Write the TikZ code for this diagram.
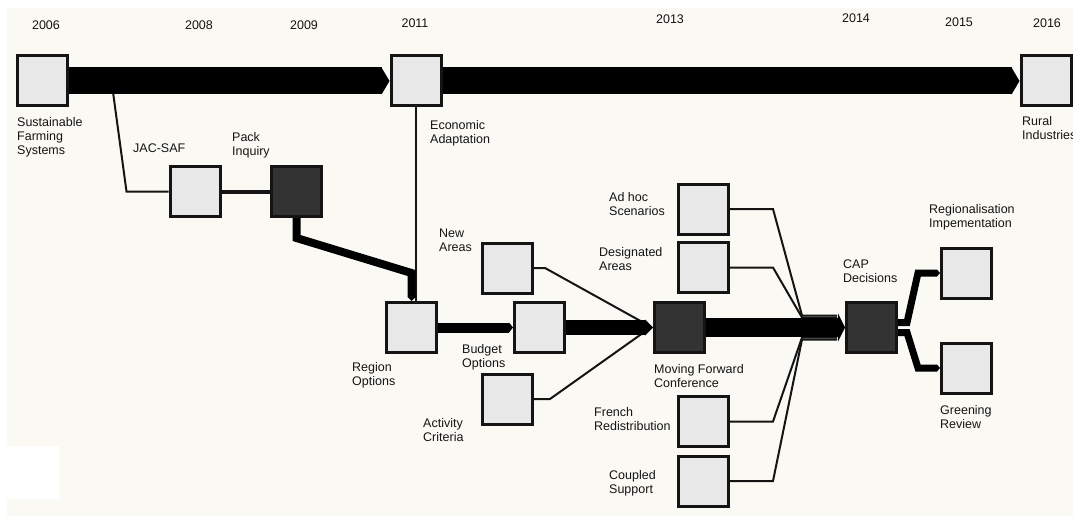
\documentclass[tikz,border=0pt]{standalone}
\usepackage{fontspec}
\setmainfont{Liberation Sans}
\usetikzlibrary{arrows.meta}
\definecolor{paper}{RGB}{250,249,244}
\definecolor{boxfill}{RGB}{232,232,232}
\definecolor{boxdark}{RGB}{51,51,51}
\definecolor{ink}{RGB}{20,20,20}
\tikzset{
  stage/.style={draw=ink, line width=3pt, fill=boxfill, minimum size=50pt, inner sep=0pt},
  keystage/.style={stage, fill=boxdark},
  lbl/.style={anchor=west, align=left, inner sep=0pt, text=ink, font=\fontsize{12.5}{14}\selectfont},
  yr/.style={inner sep=0pt, text=ink, font=\fontsize{12.5}{14}\selectfont},
  thinlink/.style={draw=ink, line width=2pt},
  flow/.style={draw=black, line width=#1},
  mainbar/.style={flow=27pt, -{Triangle[width=27pt,length=8pt,line width=0pt]}},
}
\begin{document}
\begin{tikzpicture}[x=1pt, y=-1pt]
	% 1. background
	\useasboundingbox (0,0) rectangle (1073,516);
	\fill[white] (0,0) rectangle (1073,516);
	\fill[paper] (7,8) rectangle (1073,516);
	\fill[white] (7,446) rectangle (59,499);
	
	% 2. years
	\node[yr] (y2006) at (46,25) {2006};
	\node[yr] (y2008) at (199,25) {2008};
	\node[yr] (y2009) at (304,25) {2009};
	\node[yr] (y2011) at (415,23) {2011};
	\node[yr] (y2013) at (670,19) {2013};
	\node[yr] (y2014) at (856,18) {2014};
	\node[yr] (y2015) at (959,22) {2015};
	\node[yr] (y2016) at (1047,23) {2016};
	
	% 3. stages
	\node[stage] (sfs) at (42,81) {};
	\node[stage] (eco) at (416,81) {};
	\node[stage] (rural) at (1046,81) {};
	\node[stage] (jac) at (195,191.5) {};
	\node[keystage] (pack) at (296.5,191.5) {};
	\node[stage] (region) at (411.5,327.5) {};
	\node[stage] (budget) at (539.5,327.5) {};
	\node[stage] (newareas) at (507.5,268) {};
	\node[stage] (activity) at (507.5,399) {};
	\node[keystage] (moving) at (679.5,327.5) {};
	\node[stage] (adhoc) at (703.5,209) {};
	\node[stage] (desig) at (703.5,267.5) {};
	\node[stage] (french) at (703.5,421.5) {};
	\node[stage] (coupled) at (703.5,481) {};
	\node[keystage] (cap) at (871.5,327.5) {};
	\node[stage] (regional) at (966.5,273) {};
	\node[stage] (greening) at (966.5,368) {};
	
	% 4. labels
	\node[lbl] (sfslbl) at (17,137) {Sustainable\\Farming\\Systems};
	\node[lbl] (jaclbl) at (133,148) {JAC-SAF};
	\node[lbl] (packlbl) at (232,145.5) {Pack\\Inquiry};
	\node[lbl] (ecolbl) at (430,133) {Economic\\Adaptation};
	\node[lbl] (rurallbl) at (1022,128.5) {Rural\\Industries};
	\node[lbl] (regionlbl) at (352,375) {Region\\Options};
	\node[lbl] (newlbl) at (439,240) {New\\Areas};
	\node[lbl] (budgetlbl) at (462,357.5) {Budget\\Options};
	\node[lbl] (actlbl) at (423,430.5) {Activity\\Criteria};
	\node[lbl] (movinglbl) at (654,376.5) {Moving Forward\\Conference};
	\node[lbl] (adhoclbl) at (609,204.5) {Ad hoc\\Scenarios};
	\node[lbl] (desiglbl) at (599,259) {Designated\\Areas};
	\node[lbl] (frenchlbl) at (594,419) {French\\Redistribution};
	\node[lbl] (coupledlbl) at (609,483) {Coupled\\Support};
	\node[lbl] (caplbl) at (843,271.5) {CAP\\Decisions};
	\node[lbl] (regionallbl) at (929,217.5) {Regionalisation\\Impementation};
	\node[lbl] (greenlbl) at (940,417) {Greening\\Review};
	
	% 5. thin links (under the bars)
	\draw[thinlink] ([xshift=43pt]sfs.east) -- ([xshift=-42pt]jac.west) -- (jac.west);
	\draw[thinlink] (eco.south) -- (eco.south |- region.north);
	\draw[thinlink] (newareas.east) -- ++(11,0) -- ([xshift=-8pt,yshift=4pt]moving.west);
	\draw[thinlink] (activity.east) -- ++(16,0) -- ([xshift=-8pt,yshift=-4pt]moving.west);
	\draw[thinlink] (adhoc.east) -- ++(43,0) -- ([xshift=-43pt,yshift=12pt]cap.west) -- ([xshift=-8pt,yshift=12pt]cap.west);
	\draw[thinlink] (desig.east) -- ++(43,0) -- ([xshift=-43pt,yshift=10pt]cap.west) -- ([xshift=-8pt,yshift=10pt]cap.west);
	\draw[thinlink] (french.east) -- ++(43,0) -- ([xshift=-43pt,yshift=-10pt]cap.west) -- ([xshift=-8pt,yshift=-10pt]cap.west);
	\draw[thinlink] (coupled.east) -- ++(43,0) -- ([xshift=-43pt,yshift=-12pt]cap.west) -- ([xshift=-8pt,yshift=-12pt]cap.west);
	
	% 6. bars
	\draw[mainbar] (sfs.east) -- (eco.west);
	\draw[mainbar] (eco.east) -- (rural.west);
	\draw[flow=4pt, draw=ink] (jac.east) -- (pack.west);
	\draw[flow=8pt, -{Triangle[width=8pt,length=4pt,line width=0pt]}] (pack.south) -- ++(0,20) -- ++(115,35) -- (region.north);
	\draw[flow=10pt, -{Triangle[width=10pt,length=4pt,line width=0pt]}] (region.east) -- (budget.west);
	\draw[flow=15pt, -{Triangle[width=16pt,length=8pt,line width=0pt]}] (budget.east) -- (moving.west);
	\draw[flow=19pt, -{Triangle[width=28pt,length=7pt,line width=0pt]}] (moving.east) -- (cap.west);
	\draw[flow=7pt, -{Triangle[width=7pt,length=3pt,line width=0pt]}] ([yshift=5pt]cap.east) -- ++(9,0) -- ([xshift=-22pt]regional.west) -- (regional.west);
	\draw[flow=7pt, -{Triangle[width=7pt,length=3pt,line width=0pt]}] ([yshift=-5pt]cap.east) -- ++(9,0) -- ([xshift=-22pt]greening.west) -- (greening.west);
\end{tikzpicture}
\end{document}
